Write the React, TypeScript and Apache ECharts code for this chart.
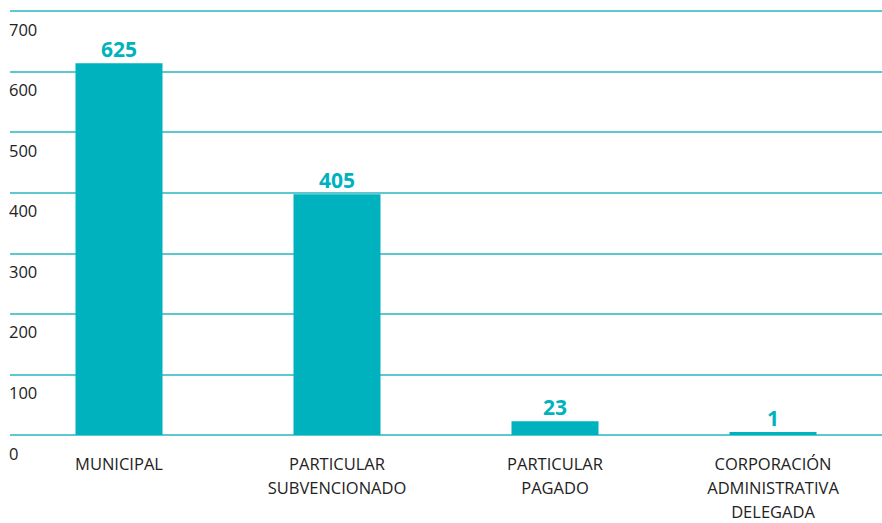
import React, { useEffect, useRef } from "react";
import * as echarts from "echarts";

const categories = [
  "MUNICIPAL",
  "PARTICULAR\nSUBVENCIONADO",
  "PARTICULAR\nPAGADO",
  "CORPORACIÓN\nADMINISTRATIVA\nDELEGADA",
];
const values = [625, 405, 23, 1];
const axisMin = 0;
const axisMax = 700;
const axisStep = 100;
const barScaleMax = 713;

const TEAL = "#00B2BE";
const GRID = "#5CC9D1";
const FONT = "'Open Sans', 'Noto Sans', sans-serif";

export default function App() {
  const ref = useRef<HTMLDivElement>(null);
  useEffect(() => {
    document.body.style.margin = "0";
    if (!ref.current) return;
    const chart = echarts.init(ref.current, undefined, { renderer: "svg" });
    chart.setOption({
      animation: false,
      backgroundColor: "#ffffff",
      grid: { left: 10, top: 11, width: 878, height: 428, containLabel: false },
      xAxis: {
        type: "category",
        data: categories,
        axisLine: { show: false },
        axisTick: { show: false },
        axisLabel: {
          margin: 16,
          fontSize: 16.5,
          lineHeight: 24,
          color: "#222222",
          fontFamily: FONT,
          interval: 0,
        },
      },
      yAxis: [
        {
          type: "value",
          min: axisMin,
          max: axisMax,
          interval: axisStep,
          axisLine: { show: false },
          axisTick: { show: false },
          splitLine: { lineStyle: { color: GRID, width: 2 } },
          axisLabel: {
            align: "left",
            margin: 1,
            fontSize: 16.5,
            color: "#222222",
            fontFamily: FONT,
            verticalAlign: "top",
            lineHeight: 36,
          },
        },
        { type: "value", min: 0, max: barScaleMax, show: false },
      ],
      series: [
        {
          type: "bar",
          yAxisIndex: 1,
          data: values,
          barWidth: 87,
          barMinHeight: 3,
          itemStyle: { color: TEAL },
          label: {
            show: true,
            position: "top",
            distance: 4,
            color: TEAL,
            fontSize: 21,
            fontWeight: "bold",
            fontFamily: FONT,
          },
        },
      ],
    });
    return () => chart.dispose();
  }, []);
  return <div ref={ref} style={{ width: 882, height: 523 }} />;
}
